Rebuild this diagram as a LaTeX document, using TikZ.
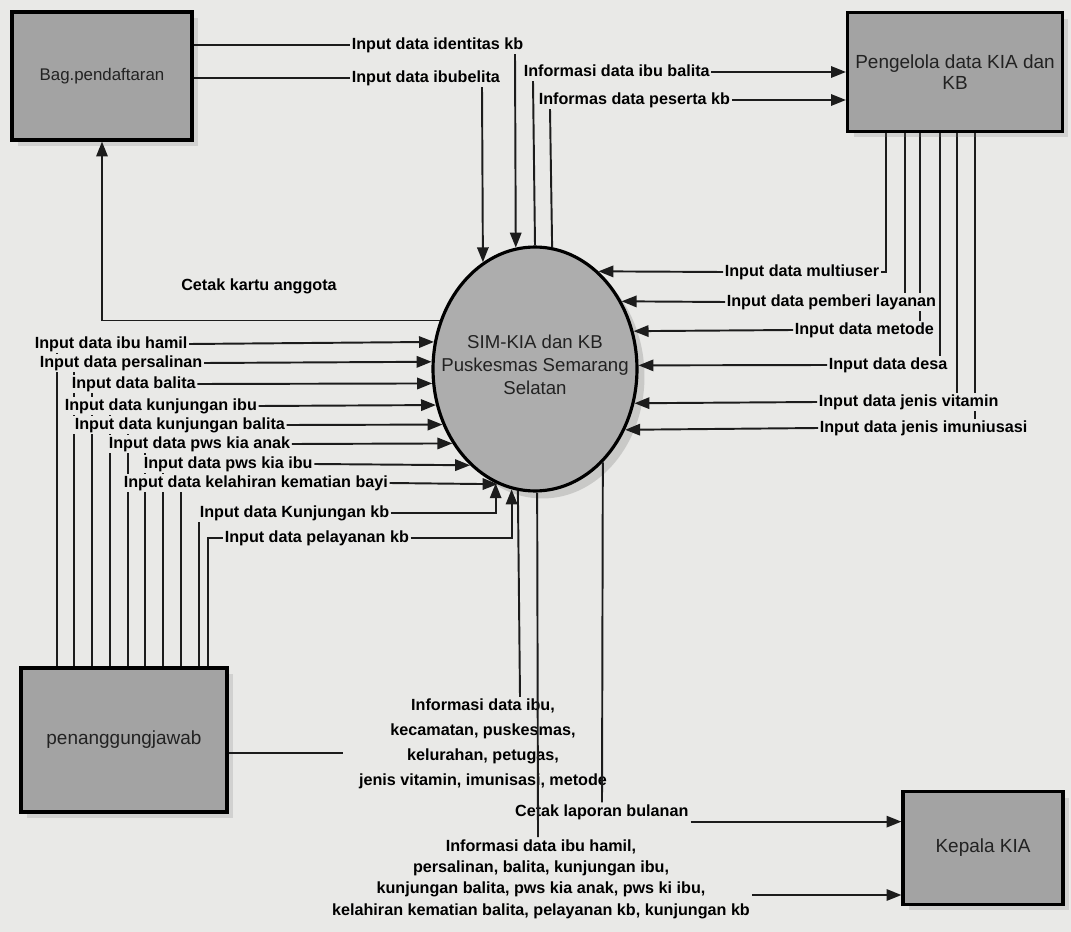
\documentclass[tikz,border=0pt]{standalone}
\usepackage{fontspec}
\setmainfont{Liberation Sans}
\usetikzlibrary{arrows.meta,shapes.geometric,shadows}

\definecolor{paper}{HTML}{E9E9E7}
\definecolor{boxgray}{HTML}{A3A3A3}
\definecolor{circgray}{HTML}{ADADAD}
\definecolor{ink}{HTML}{1C1C1C}
\definecolor{txtgray}{HTML}{222222}

\pgfdeclarelayer{paperlayer}
\pgfdeclarelayer{under}
\pgfsetlayers{paperlayer,under,main}

\newcommand\lblfont{\bfseries\fontsize{9.2}{11}\selectfont}
\newcommand\boxfont{\fontsize{10.8}{12}\selectfont}
% sudut titik pada tepi lingkaran proses (baris/kolom piksel #1)
\newcommand\rimleft[1]{\pgfmathsetmacro\rimang{mod(360+atan2(369-(#1),-102*sqrt(1-((#1)-369)*((#1)-369)/14884)),360)}}
\newcommand\rimright[1]{\pgfmathsetmacro\rimang{mod(360+atan2(369-(#1),102*sqrt(1-((#1)-369)*((#1)-369)/14884)),360)}}
\newcommand\rimtop[1]{\pgfmathsetmacro\rimang{mod(360+atan2(122*sqrt(1-((#1)-535)*((#1)-535)/10404),(#1)-535),360)}}
\newcommand\rimbot[1]{\pgfmathsetmacro\rimang{mod(360+atan2(-122*sqrt(1-((#1)-535)*((#1)-535)/10404),(#1)-535),360)}}

\begin{document}
\begin{tikzpicture}[x=0.02cm,y=-0.02cm,
    lbl/.style={font=\lblfont,fill=paper,inner sep=0.8pt,text height=7pt,text depth=1.5pt,anchor=west},
    block/.style={align=center,inner sep=1pt},
    wire/.style={line width=1.1pt,draw=ink},
    flow/.style={wire,-{Triangle[length=8.5pt,width=6.5pt]}},
    entity/.style={draw=black,line width=1.8pt,fill=boxgray,text=txtgray,font=\boxfont,align=center,inner sep=2pt,
      drop shadow={shadow xshift=0.12cm,shadow yshift=-0.12cm,opacity=0.22}},
    process/.style={ellipse,draw=black,line width=1.8pt,fill=circgray,inner sep=0pt,
      minimum width=4.08cm,minimum height=4.88cm,
      drop shadow={shadow xshift=0.15cm,shadow yshift=-0.15cm,opacity=0.3}}]
  \begin{pgfonlayer}{paperlayer}
    \fill[paper] (0,0) rectangle (1071,932);
  \end{pgfonlayer}
  \useasboundingbox (0,0) rectangle (1071,932);

  % entitas dan proses
  \node[entity,minimum width=3.6cm,minimum height=2.56cm,font=\fontsize{9.6}{11}\selectfont] (bag) at (102,76) {Bag.pendaftaran};
  \node[entity,minimum width=4.3cm,minimum height=2.38cm] (peng) at (955,72) {Pengelola data KIA dan\\KB};
  \node[entity,minimum width=4.12cm,minimum height=2.88cm] (pj) at (124,740) {penanggungjawab};
  \node[entity,minimum width=3.2cm,minimum height=2.26cm] (kepala) at (983,848) {Kepala KIA};
  \node[process] (circ) at (535,369) {};
  \node[align=center,text=txtgray,font=\fontsize{10.6}{13}\selectfont] (circtxt) at (535,365)
    {SIM-KIA dan KB\\Puskesmas Semarang\\Selatan};

  % label atas
  \node[lbl] (ident) at (350,45) {Input data identitas kb};
  \node[lbl] (ibub) at (350,78) {Input data ibubelita};
  \node[lbl] (ibal) at (522,72) {Informasi data ibu balita};
  \node[lbl] (pkb) at (537,100) {Informas data peserta kb};
  % label kanan
  \node[lbl] (multi) at (723,272) {Input data multiuser};
  \node[lbl] (layan) at (725,302) {Input data pemberi layanan};
  \node[lbl] (metode) at (793,330) {Input data metode};
  \node[lbl] (desa) at (827,365) {Input data desa};
  \node[lbl] (vit) at (817,402) {Input data jenis vitamin};
  \node[lbl] (imun) at (818,428) {Input data jenis imuniusasi};
  % label kiri
  \node[lbl] (hamil) at (33,344) {Input data ibu hamil};
  \node[lbl] (persal) at (38,363) {Input data persalinan};
  \node[lbl] (balita) at (70,384) {Input data balita};
  \node[lbl] (kibu) at (63,406) {Input data kunjungan ibu};
  \node[lbl] (kbal) at (73,425) {Input data kunjungan balita};
  \node[lbl] (anak) at (107,444) {Input data pws kia anak};
  \node[lbl] (pibu) at (142,464) {Input data pws kia ibu};
  \node[lbl] (lahir) at (122,483) {Input data kelahiran kematian bayi};
  \node[lbl] (kkb) at (198,513) {Input data Kunjungan kb};
  \node[lbl] (pkbl) at (223,538) {Input data pelayanan kb};
  % label bawah
  \node[font=\lblfont] (kartu) at (259,286) {Cetak kartu anggota};
  \node[block,font=\bfseries\fontsize{9.2}{14.2}\selectfont] (info1) at (483,744)
    {Informasi data ibu,\\kecamatan, puskesmas,\\kelurahan, petugas,\\jenis vitamin, imunisasi, metode};
  \node[font=\lblfont,anchor=west,inner sep=1pt] (cetak) at (513,812) {Cetak laporan bulanan};
  \node[block,font=\bfseries\fontsize{9.2}{12.2}\selectfont] (info2) at (541,879)
    {Informasi data ibu hamil,\\persalinan, balita, kunjungan ibu,\\kunjungan balita, pws kia anak, pws ki ibu,\\kelahiran kematian balita, pelayanan kb, kunjungan kb};

  % garis tegak di belakang label
  \begin{pgfonlayer}{under}
    \foreach \n/\x in {layan/905,metode/920,desa/940,vit/957,imun/975}
      \draw[wire] (peng.south -| \x,0) -- (\n.north -| \x,0);
    \draw[wire] (peng.south -| 886,0) |- (multi.east);
    \foreach \n/\x in {hamil/57,persal/74,balita/92,kibu/110,kbal/128,anak/145,pibu/163,lahir/181,kkb/199}
      \draw[wire] (pj.north -| \x,0) -- (\n.south -| \x,0);
    \draw[wire] (pj.north -| 208,0) |- (pkbl.west);
  \end{pgfonlayer}

  % alur atas
  \draw[wire] (bag.east |- ident.west) -- (ident.west);
  \draw[wire] (bag.east |- ibub.west) -- (ibub.west);
  \rimtop{515} \draw[flow] (ident.south -| 515,0) -- (circ.\rimang);
  \rimtop{482} \draw[flow] (ibub.south -| 482,0) -- (circ.\rimang);
  \rimtop{533} \draw[wire] (circ.\rimang) -- (ibal.south -| 533,0);
  \rimtop{550} \draw[wire] (circ.\rimang) -- (pkb.south -| 550,0);
  \draw[flow] (ibal.east) -- (ibal.east -| peng.west);
  \draw[flow] (pkb.east) -- (pkb.east -| peng.west);

  % alur kanan dan kiri
  \foreach \n/\y in {multi/272,layan/302,metode/330,desa/365,vit/402,imun/428}
    {\rimright{\y} \draw[flow] (\n.west) -- (circ.\rimang);}
  \foreach \n/\y in {hamil/344,persal/363,balita/384,kibu/406,kbal/425,anak/444,pibu/464,lahir/483}
    {\rimleft{\y} \draw[flow] (\n.east) -- (circ.\rimang);}
  \rimbot{497} \draw[flow] (kkb.east) -| (circ.\rimang);
  \rimbot{512} \draw[flow] (pkbl.east) -| (circ.\rimang);
  \rimleft{322} \draw[flow] (circ.\rimang) -| (bag.south);

  % alur bawah
  \rimbot{520} \draw[wire] (circ.\rimang) -- (info1.north -| 520,0);
  \rimbot{538} \draw[wire] (circ.\rimang) -- (info2.north -| 538,0);
  \rimbot{602} \draw[wire] (circ.\rimang) -- (cetak.north -| 602,0);
  \draw[flow] (cetak.south east) -- (cetak.south east -| kepala.west);
  \draw[flow] (info2.east |- 0,895) -- (kepala.west |- 0,895);
  \coordinate (pjend) at (343,753);
  \draw[wire] (pj.east |- pjend) -- (pjend);
\end{tikzpicture}
\end{document}
